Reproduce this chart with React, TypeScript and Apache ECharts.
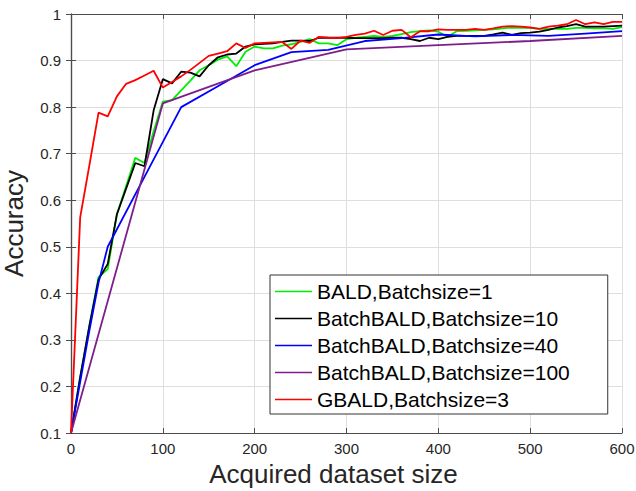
import React, { useEffect, useRef } from "react";
import * as echarts from "echarts";

// Acquired dataset sizes (x) for each curve
const sizes10 = [0, 10, 20, 30, 40, 50, 60, 70, 80, 90, 100, 110, 120, 130, 140, 150, 160, 170, 180, 190, 200,
  210, 220, 230, 240, 250, 260, 270, 280, 290, 300, 310, 320, 330, 340, 350, 360, 370, 380, 390, 400,
  410, 420, 430, 440, 450, 460, 470, 480, 490, 500, 510, 520, 530, 540, 550, 560, 570, 580, 590, 600];
const sizes40 = [0, 10, 20, 30, 40, 80, 120, 160, 200, 240, 280, 320, 360, 400, 440, 480, 520, 560, 600];
const sizes100 = [0, 100, 200, 300, 400, 500, 600];

// Accuracy values
const baldBs1 = [0.10, 0.22, 0.33, 0.435, 0.452, 0.57, 0.63, 0.691, 0.68, 0.748, 0.812,
  0.815, 0.836, 0.857, 0.879, 0.89, 0.902, 0.909, 0.888, 0.919, 0.93,
  0.926, 0.926, 0.932, 0.935, 0.94, 0.946, 0.937, 0.937, 0.933, 0.946,
  0.949, 0.951, 0.953, 0.951, 0.953, 0.957, 0.961, 0.963, 0.965, 0.962,
  0.951, 0.963, 0.964, 0.965, 0.966, 0.967, 0.969, 0.971, 0.97, 0.97,
  0.968, 0.968, 0.968, 0.968, 0.97, 0.97, 0.969, 0.969, 0.968, 0.972];
const batchBaldBs10 = [0.10, 0.22, 0.33, 0.43, 0.463, 0.57, 0.625, 0.68, 0.673, 0.793, 0.86,
  0.851, 0.876, 0.874, 0.866, 0.89, 0.907, 0.913, 0.915, 0.93, 0.935,
  0.936, 0.937, 0.94, 0.943, 0.943, 0.942, 0.949, 0.949, 0.949, 0.949,
  0.948, 0.948, 0.948, 0.948, 0.949, 0.949, 0.946, 0.942, 0.949, 0.946,
  0.951, 0.953, 0.953, 0.953, 0.953, 0.956, 0.96, 0.955, 0.959, 0.96,
  0.962, 0.966, 0.971, 0.974, 0.978, 0.973, 0.973, 0.973, 0.974, 0.975];
const batchBaldBs40 = [0.10, 0.21, 0.32, 0.423, 0.50, 0.65, 0.80, 0.845, 0.89, 0.918, 0.923,
  0.942, 0.948, 0.956, 0.952, 0.955, 0.953, 0.958, 0.963];
const batchBaldBs100 = [0.10, 0.808, 0.879, 0.924, 0.933, 0.942, 0.953];
const gbaldBs3 = [0.10, 0.563, 0.675, 0.788, 0.78, 0.823, 0.85, 0.858, 0.868, 0.878, 0.842,
  0.854, 0.866, 0.88, 0.895, 0.91, 0.915, 0.92, 0.937, 0.927, 0.937,
  0.938, 0.939, 0.94, 0.925, 0.943, 0.938, 0.951, 0.949, 0.948, 0.951,
  0.955, 0.958, 0.964, 0.955, 0.964, 0.966, 0.95, 0.963, 0.963, 0.967,
  0.966, 0.966, 0.966, 0.968, 0.966, 0.969, 0.973, 0.974, 0.973, 0.971,
  0.968, 0.973, 0.975, 0.978, 0.987, 0.978, 0.982, 0.978, 0.983, 0.983];

const seriesNames = [
  "BALD,Batchsize=1",
  "BatchBALD,Batchsize=10",
  "BatchBALD,Batchsize=40",
  "BatchBALD,Batchsize=100",
  "GBALD,Batchsize=3",
];

const pair = (xs: number[], ys: number[]) => xs.map((x, i) => [x, ys[i]]);

const FONT = "Liberation Sans, Arial, Helvetica, sans-serif";

export default function App() {
  const ref = useRef<HTMLDivElement>(null);

  useEffect(() => {
    if (!ref.current) return;
    const chart = echarts.init(ref.current, undefined, { renderer: "svg" });
    const axisLine = { show: true, lineStyle: { color: "#4d4d4d", width: 1.2 } };
    const tick = { show: true, inside: true, length: 5, lineStyle: { color: "#4d4d4d", width: 1 } };
    const split = { show: true, lineStyle: { color: "#dedede", width: 1 } };
    const mk = (name: string, xs: number[], ys: number[], color: string) => ({
      name,
      type: "line",
      data: pair(xs, ys),
      symbol: "none",
      lineStyle: { color, width: 1.8 },
      itemStyle: { color },
      z: 3,
    });
    chart.setOption({
      animation: false,
      backgroundColor: "#ffffff",
      textStyle: { fontFamily: FONT },
      grid: { left: 71, right: 14, top: 14, bottom: 58, containLabel: false, outerBoundsMode: "none" },
      legend: {
        orient: "vertical",
        left: 270,
        top: 275,
        data: seriesNames,
        icon: "rect",
        backgroundColor: "#ffffff",
        borderColor: "#333333",
        borderWidth: 1,
        borderRadius: 0,
        padding: [6, 38, 4, 5],
        itemGap: 6,
        itemWidth: 37,
        itemHeight: 1.5,
        textStyle: { fontSize: 21, color: "#000000", fontFamily: FONT },
        z: 10,
      },
      xAxis: [
        {
          type: "value",
          min: 0,
          max: 600,
          interval: 100,
          name: "Acquired dataset size",
          nameLocation: "middle",
          nameGap: 27,
          nameTextStyle: { fontSize: 26, color: "#262626", fontFamily: FONT, padding: [0, 26, 0, 0] },
          axisLine,
          axisTick: tick,
          splitLine: split,
          axisLabel: { fontSize: 15, color: "#262626", margin: 8, fontFamily: FONT },
        },
        {
          type: "value",
          position: "top",
          min: 0,
          max: 600,
          interval: 100,
          axisLine,
          axisTick: tick,
          splitLine: { show: false },
          axisLabel: { show: false },
        },
      ],
      yAxis: [
        {
          type: "value",
          min: 0.1,
          max: 1,
          interval: 0.1,
          name: "Accuracy",
          nameLocation: "middle",
          nameGap: 44,
          nameTextStyle: { fontSize: 26, color: "#262626", fontFamily: FONT },
          axisLine,
          axisTick: tick,
          splitLine: split,
          axisLabel: {
            fontSize: 15,
            color: "#262626",
            margin: 10,
            fontFamily: FONT,
            formatter: (v: number) => String(Math.round(v * 10) / 10),
          },
        },
        {
          type: "value",
          position: "right",
          min: 0.1,
          max: 1,
          interval: 0.1,
          axisLine,
          axisTick: tick,
          splitLine: { show: false },
          axisLabel: { show: false },
        },
      ],
      series: [
        mk(seriesNames[0], sizes10, baldBs1, "#00ee00"),
        mk(seriesNames[1], sizes10, batchBaldBs10, "#000000"),
        mk(seriesNames[2], sizes40, batchBaldBs40, "#0000ff"),
        mk(seriesNames[3], sizes100, batchBaldBs100, "#7e1e8c"),
        mk(seriesNames[4], sizes10, gbaldBs3, "#ff0000"),
      ],
    });
    return () => chart.dispose();
  }, []);

  return (
    <div
      ref={ref}
      style={{ position: "fixed", left: 0, top: 0, width: 636, height: 491, background: "#fff" }}
    />
  );
}
